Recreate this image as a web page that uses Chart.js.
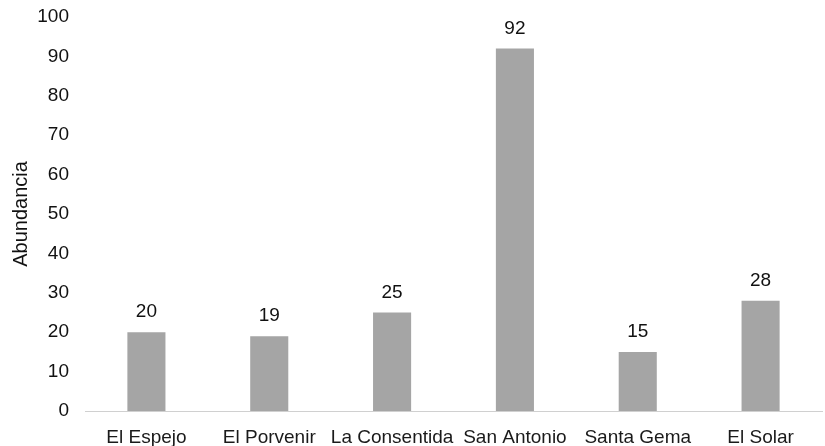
<!DOCTYPE html>
<html><head><meta charset="utf-8">
<script src="https://cdn.jsdelivr.net/npm/chart.js@4"></script>
<style>html,body{margin:0;padding:0;background:#fff}#wrap{width:825px;height:446px}</style>
</head><body><div id="wrap"><canvas id="c" width="825" height="446"></canvas></div>
<script>
const categories = ["El Espejo","El Porvenir","La Consentida","San Antonio","Santa Gema","El Solar"];
const abundancia = [20,19,25,92,15,28];
const yTicks = [0,10,20,30,40,50,60,70,80,90,100];

const FONT = '"Liberation Sans", Arial, sans-serif';
const labelPlugin = {
  id:'vals',
  afterDatasetsDraw(chart){
    const ctx = chart.ctx;
    const meta = chart.getDatasetMeta(0);
    ctx.save();
    ctx.font = '19px ' + FONT;
    ctx.fillStyle = '#111';
    ctx.textAlign = 'center';
    ctx.textBaseline = 'middle';
    meta.data.forEach((b,i)=>{ ctx.fillText(String(abundancia[i]), b.x, b.y - 20); });
    ctx.restore();
  }
};

new Chart(document.getElementById('c'), {
  type:'bar',
  data:{labels:categories, datasets:[{data:abundancia, backgroundColor:'#a5a5a5', barPercentage:0.31, categoryPercentage:1}]},
  options:{
    responsive:false, animation:false,
    layout:{padding:{top:17,right:3,left:0,bottom:0}},
    plugins:{legend:{display:false}, tooltip:{enabled:false}},
    scales:{
      x:{grid:{display:false, drawTicks:false}, border:{color:'#d0d0d0'},
         ticks:{color:'#1a1a1a', padding:15, font:{family:FONT, size:19}, maxRotation:0, autoSkip:false},
         afterFit(s){ s.height = 35; s.paddingLeft = 0; s.paddingRight = 0; }},
      y:{min:0,max:100, grid:{display:false, drawTicks:false}, border:{display:false},
         afterBuildTicks(s){ s.ticks = yTicks.map(v=>({value:v})); },
         ticks:{color:'#111', padding:16, font:{family:FONT, size:19}},
         title:{display:true, text:'Abundancia', color:'#111', font:{family:FONT, size:20}, padding:{top:9,bottom:0}},
         afterFit(s){ s.width = 85; s.paddingTop = 0; s.paddingBottom = 0; }}
    }
  },
  plugins:[labelPlugin]
});
</script></body></html>
